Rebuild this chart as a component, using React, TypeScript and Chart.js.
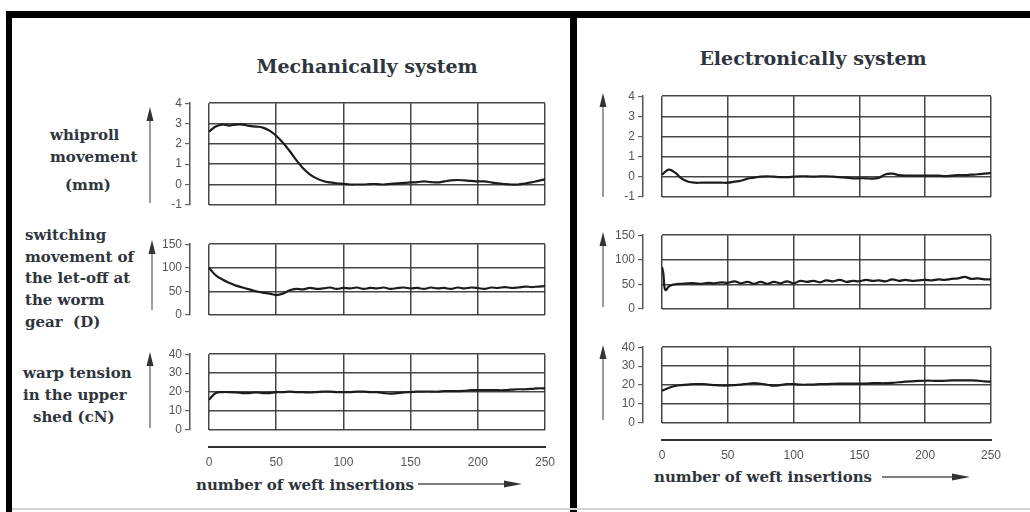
import React, { useEffect, useRef } from "react";
import { Chart, registerables } from "chart.js";

Chart.register(...registerables);

// ---------- data ----------
const WEFT_X = [0, 5, 10, 15, 20, 25, 30, 35, 40, 45, 50, 55, 60, 65, 70, 75, 80, 85, 90, 95, 100, 105, 110, 115, 120, 125, 130, 135, 140, 145, 150, 155, 160, 165, 170, 175, 180, 185, 190, 195, 200, 205, 210, 215, 220, 225, 230, 235, 240, 245, 250];
const X_TICK_STEP = 50;

const mechWhiproll = [2.6, 2.85, 2.95, 2.9, 2.95, 2.95, 2.88, 2.85, 2.8, 2.65, 2.4, 2.05, 1.65, 1.2, 0.8, 0.5, 0.3, 0.17, 0.1, 0.06, 0.03, 0.0, 0.0, 0.0, 0.02, 0.02, 0.0, 0.03, 0.05, 0.08, 0.1, 0.12, 0.15, 0.12, 0.1, 0.15, 0.2, 0.22, 0.2, 0.18, 0.15, 0.15, 0.1, 0.05, 0.02, 0.0, 0.0, 0.05, 0.1, 0.18, 0.25];
const mechSwitching = [100, 84, 75, 68, 62, 58, 54, 50, 47, 45, 42, 45, 52, 55, 54, 57, 55, 56, 58, 55, 57, 56, 58, 55, 57, 56, 58, 55, 57, 58, 56, 57, 55, 58, 56, 57, 55, 58, 56, 58, 57, 55, 58, 57, 59, 57, 58, 60, 59, 60, 61];
const mechWarp = [16, 19.5, 20, 20, 19.8, 19.5, 19.5, 19.8, 19.5, 19.5, 20, 20, 20.2, 20, 20, 19.8, 20, 20.2, 20.2, 20, 20, 20, 20.2, 20.2, 20, 20, 19.5, 19.2, 19.5, 19.8, 20, 20.2, 20.3, 20.3, 20.2, 20.5, 20.5, 20.5, 20.7, 21, 21, 21, 21, 21, 21, 21.3, 21.5, 21.5, 21.7, 22, 22];

const elecWhiproll = [0.1, 0.35, 0.2, -0.1, -0.25, -0.3, -0.3, -0.3, -0.3, -0.3, -0.3, -0.25, -0.2, -0.1, -0.05, 0, 0.02, 0, -0.02, -0.02, 0, 0.02, 0.02, 0, 0.02, 0.02, 0, -0.02, -0.05, -0.08, -0.08, -0.08, -0.1, -0.05, 0.12, 0.15, 0.08, 0.05, 0.05, 0.05, 0.05, 0.05, 0.05, 0.03, 0.05, 0.08, 0.08, 0.1, 0.12, 0.15, 0.18];
const ELEC_SWITCH_X = [0, 1, 2, 3, 5, 8, 10, 15, 20, 25, 30, 35, 40, 45, 50, 55, 60, 65, 70, 75, 80, 85, 90, 95, 100, 105, 110, 115, 120, 125, 130, 135, 140, 145, 150, 155, 160, 165, 170, 175, 180, 185, 190, 195, 200, 205, 210, 215, 220, 225, 230, 235, 240, 245, 250];
const elecSwitching = [85, 72, 42, 38, 45, 49, 50, 51, 52, 52, 51, 53, 52, 54, 53, 56, 52, 55, 51, 55, 51, 55, 52, 56, 52, 57, 55, 57, 54, 58, 56, 59, 55, 57, 56, 59, 57, 58, 56, 60, 57, 59, 57, 58, 59, 58, 60, 59, 61, 62, 65, 61, 62, 60, 60];
const elecWarp = [17, 18.5, 19.5, 20, 20.3, 20.5, 20.5, 20.3, 20, 19.8, 19.8, 20, 20.3, 20.7, 21, 20.7, 20.2, 19.7, 20, 20.5, 20.5, 20.2, 20.2, 20.3, 20.5, 20.5, 20.7, 20.8, 20.8, 20.8, 20.8, 20.8, 21, 21, 21, 21.2, 21.5, 21.8, 22, 22.2, 22.3, 22.3, 22.2, 22.3, 22.5, 22.5, 22.5, 22.5, 22.3, 22, 21.8];

const WHIP_RANGE = [-1, 4, 1];
const SWITCH_RANGE = [0, 150, 50];
const WARP_RANGE = [0, 40, 10];

const TITLE_MECH = "Mechanically system";
const TITLE_ELEC = "Electronically system";
const X_TITLE = "number of weft insertions";
const LABEL_WHIP = ["whiproll", "movement", "(mm)"];
const LABEL_SWITCH = ["switching", "movement of", "the let-off at", "the worm", "gear  (D)"];
const LABEL_WARP = ["warp tension", "in the upper", "shed (cN)"];

// ---------- styling / layout ----------
const TICK_FONT = "'Liberation Sans', Arial, sans-serif";
const SERIF = "'DejaVu Serif', serif";
const TEXT_COLOR = "#2f353d";
const GRID = "rgba(50,50,50,0.9)";
const LABEL_W = 40;
const GAP = 19;
const PAD_T = 8;
const PAD_R = 14;
const PAD_R_X = 26;

type Spec = {
  xs: number[];
  ys: number[];
  range: number[];
  showX: boolean;
  L: number;
  R: number;
  T: number;
  B: number;
};

function buildConfig(s: Spec): any {
  const [yMin, yMax, yStep] = s.range;
  const tickFont = { family: TICK_FONT, size: 12 };
  const scales: any = {
    x: {
      type: "linear",
      position: "bottom",
      min: 0,
      max: 250,
      weight: 0,
      ticks: { display: false, stepSize: X_TICK_STEP },
      grid: { display: true, color: GRID, lineWidth: 1.5, drawTicks: false },
      border: { display: false },
      afterFit: (sc: any) => {
        sc.height = s.showX ? 17 : 0;
      },
    },
    y: {
      type: "linear",
      position: "left",
      min: yMin,
      max: yMax,
      weight: 0,
      ticks: { display: false, stepSize: yStep },
      grid: { display: true, color: GRID, lineWidth: 1.5, drawTicks: false },
      border: { display: false },
      afterFit: (sc: any) => {
        sc.width = GAP;
      },
    },
    y2: {
      type: "linear",
      position: "left",
      min: yMin,
      max: yMax,
      weight: 1,
      ticks: { stepSize: yStep, color: "#555", font: tickFont, padding: 3 },
      grid: { display: true, drawOnChartArea: false, drawTicks: true, tickLength: 5, color: "#666", lineWidth: 1.2 },
      border: { display: true, color: "#555", width: 1.5 },
      afterFit: (sc: any) => {
        sc.width = LABEL_W;
      },
    },
  };
  if (s.showX) {
    scales.x2 = {
      type: "linear",
      position: "bottom",
      min: 0,
      max: 250,
      weight: 1,
      ticks: { stepSize: X_TICK_STEP, color: "#555", font: { family: TICK_FONT, size: 12 }, padding: 8 },
      grid: { display: true, drawOnChartArea: false, drawTicks: false, color: "#444" },
      border: { display: true, color: "#333", width: 2 },
      afterFit: (sc: any) => {
        sc.height = 30;
      },
    };
  }
  return {
    type: "line",
    data: {
      datasets: [
        {
          data: s.xs.map((x, i) => ({ x, y: s.ys[i] })),
          borderColor: "#1c1c1c",
          borderWidth: 2.2,
          pointRadius: 0,
          tension: 0.4,
          fill: false,
        },
      ],
    },
    options: {
      animation: false,
      responsive: false,
      maintainAspectRatio: false,
      devicePixelRatio: 1,
      events: [],
      layout: { padding: { top: PAD_T, right: s.showX ? PAD_R_X : PAD_R, bottom: s.showX ? 2 : 8, left: 0 } },
      plugins: { legend: { display: false }, tooltip: { enabled: false } },
      scales,
    },
  };
}

function ChartBox({ spec }: { spec: Spec }) {
  const ref = useRef<HTMLCanvasElement | null>(null);
  const left = spec.L - GAP - LABEL_W;
  const top = spec.T - PAD_T;
  const width = spec.R - spec.L + GAP + LABEL_W + (spec.showX ? PAD_R_X : PAD_R);
  const height = spec.B - spec.T + PAD_T + (spec.showX ? 17 + 30 + 2 : 8);
  useEffect(() => {
    if (!ref.current) return;
    const chart = new Chart(ref.current, buildConfig(spec));
    return () => chart.destroy();
  }, []);
  return (
    <canvas
      ref={ref}
      width={width}
      height={height}
      style={{ position: "absolute", left, top, width, height }}
    />
  );
}

const SPECS: Spec[] = [
  { xs: WEFT_X, ys: mechWhiproll, range: WHIP_RANGE, showX: false, L: 209, R: 545, T: 101, B: 207 },
  { xs: WEFT_X, ys: mechSwitching, range: SWITCH_RANGE, showX: false, L: 209, R: 545, T: 242, B: 317 },
  { xs: WEFT_X, ys: mechWarp, range: WARP_RANGE, showX: true, L: 209, R: 545, T: 352, B: 430 },
  { xs: WEFT_X, ys: elecWhiproll, range: WHIP_RANGE, showX: false, L: 662, R: 991, T: 94, B: 199 },
  { xs: ELEC_SWITCH_X, ys: elecSwitching, range: SWITCH_RANGE, showX: false, L: 662, R: 991, T: 233, B: 311 },
  { xs: WEFT_X, ys: elecWarp, range: WARP_RANGE, showX: true, L: 662, R: 991, T: 345, B: 423 },
];

const V_ARROWS = [
  { x: 150, y1: 203, y2: 107 },
  { x: 152, y1: 310, y2: 240 },
  { x: 150, y1: 428, y2: 352 },
  { x: 603, y1: 197, y2: 93 },
  { x: 603, y1: 307, y2: 232 },
  { x: 603, y1: 420, y2: 345 },
];
const H_ARROWS = [
  { y: 484, x1: 418, x2: 522 },
  { y: 477, x1: 882, x2: 970 },
];

function Text({ text, left, cy, size, center }: { text: string; left: number; cy: number; size: number; center?: boolean }) {
  const lh = size + 6;
  return (
    <div
      style={{
        position: "absolute",
        left: center ? left - 250 : left,
        width: center ? 500 : undefined,
        textAlign: center ? "center" : "left",
        top: cy - lh / 2,
        height: lh,
        lineHeight: lh + "px",
        fontFamily: SERIF,
        fontWeight: "bold",
        fontSize: size,
        color: TEXT_COLOR,
        whiteSpace: "pre",
      }}
    >
      {text}
    </div>
  );
}

export default function App() {
  const HEAD = 14;
  const HW = 3.5;
  return (
    <div
      style={{
        position: "absolute",
        left: 0,
        top: 0,
        width: 1030,
        height: 512,
        background: "#fff",
        overflow: "hidden",
      }}
    >
      {/* frame */}
      <div style={{ position: "absolute", left: 6, top: 11, width: 1024, height: 7, background: "#000" }} />
      <div style={{ position: "absolute", left: 6, top: 11, width: 6, height: 501, background: "#000" }} />
      <div style={{ position: "absolute", left: 570, top: 11, width: 7, height: 501, background: "#000" }} />
      <div style={{ position: "absolute", left: 12, top: 508, width: 1018, height: 2, background: "#d4d4d4" }} />

      <Text text={TITLE_MECH} left={367} cy={66} size={19} center />
      <Text text={TITLE_ELEC} left={813} cy={58} size={19} center />

      <Text text={LABEL_WHIP[0]} left={50} cy={135} size={15} />
      <Text text={LABEL_WHIP[1]} left={50} cy={157} size={15} />
      <Text text={LABEL_WHIP[2]} left={65} cy={185} size={15} />

      <Text text={LABEL_SWITCH[0]} left={25} cy={235} size={15} />
      <Text text={LABEL_SWITCH[1]} left={25} cy={257} size={15} />
      <Text text={LABEL_SWITCH[2]} left={25} cy={278} size={15} />
      <Text text={LABEL_SWITCH[3]} left={25} cy={300} size={15} />
      <Text text={LABEL_SWITCH[4]} left={25} cy={322} size={15} />

      <Text text={LABEL_WARP[0]} left={23} cy={373} size={15} />
      <Text text={LABEL_WARP[1]} left={23} cy={395} size={15} />
      <Text text={LABEL_WARP[2]} left={33} cy={417} size={15} />

      <Text text={X_TITLE} left={196} cy={485} size={15} />
      <Text text={X_TITLE} left={654} cy={477} size={15} />

      <svg width={1030} height={512} style={{ position: "absolute", left: 0, top: 0 }}>
        {V_ARROWS.map((a, i) => (
          <g key={"v" + i}>
            <line x1={a.x} y1={a.y1} x2={a.x} y2={a.y2 + HEAD} stroke="#666" strokeWidth={1.3} />
            <polygon points={`${a.x},${a.y2} ${a.x - HW},${a.y2 + HEAD} ${a.x + HW},${a.y2 + HEAD}`} fill="#333" />
          </g>
        ))}
        {H_ARROWS.map((a, i) => (
          <g key={"h" + i}>
            <line x1={a.x1} y1={a.y} x2={a.x2 - HEAD} y2={a.y} stroke="#555" strokeWidth={1.6} />
            <polygon points={`${a.x2},${a.y} ${a.x2 - HEAD - 4},${a.y - HW} ${a.x2 - HEAD - 4},${a.y + HW}`} fill="#333" />
          </g>
        ))}
      </svg>

      {SPECS.map((s, i) => (
        <ChartBox key={i} spec={s} />
      ))}
    </div>
  );
}
